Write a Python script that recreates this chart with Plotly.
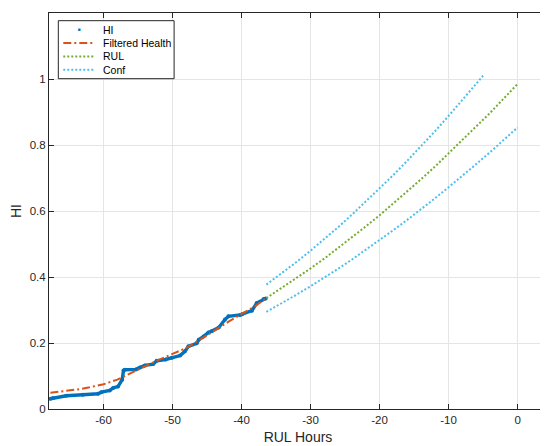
import plotly.graph_objects as go

# Health indicator (raw)
hi_x = [-67.7, -67.3, -65.4, -63.0, -60.8, -60.3, -59.1, -58.6, -57.9, -57.3, -57.1, -56.9,
        -55.3, -54.7, -54.0, -52.8, -52.3, -51.0, -50.1, -48.9, -48.2, -47.7, -46.5, -46.2,
        -45.5, -44.8, -44.3, -43.3, -42.4, -41.9, -40.2, -39.9, -38.5, -37.8, -36.8, -36.5]
hi_y = [0.031, 0.033, 0.040, 0.043, 0.046, 0.051, 0.056, 0.064, 0.068, 0.089, 0.117, 0.119,
        0.120, 0.126, 0.132, 0.136, 0.146, 0.150, 0.155, 0.162, 0.175, 0.190, 0.199, 0.210,
        0.220, 0.232, 0.236, 0.247, 0.271, 0.281, 0.285, 0.287, 0.298, 0.321, 0.333, 0.335]

# Filtered health
filt_x = [-67.7, -65.0, -63.5, -62.0, -60.0, -58.0, -57.0, -56.0, -54.0, -52.0, -50.0,
          -48.0, -46.0, -44.0, -42.0, -40.0, -38.0, -36.5]
filt_y = [0.049, 0.055, 0.060, 0.066, 0.075, 0.089, 0.099, 0.108, 0.130, 0.149, 0.167,
          0.185, 0.210, 0.237, 0.263, 0.288, 0.312, 0.335]

# RUL projection
rul_x = [-36.4, -34, -32, -30, -28, -26, -24, -22, -20, -18, -16, -14, -12, -10, -8, -6, -4, -2, 0]
rul_y = [0.336, 0.369, 0.397, 0.426, 0.456, 0.488, 0.520, 0.553, 0.587, 0.623, 0.659, 0.696,
         0.734, 0.774, 0.814, 0.855, 0.897, 0.941, 0.985]

# Confidence bounds
conf_up_x = [-36.4, -34, -32, -30, -28, -26, -24, -22, -20, -18, -16, -14, -12, -10, -8, -6, -5]
conf_up_y = [0.377, 0.414, 0.446, 0.480, 0.515, 0.551, 0.589, 0.628, 0.668, 0.709, 0.752,
             0.796, 0.841, 0.888, 0.936, 0.985, 1.010]
conf_lo_x = [-36.4, -34, -32, -30, -28, -26, -24, -22, -20, -18, -16, -14, -12, -10, -8, -6, -4, -2, 0]
conf_lo_y = [0.294, 0.322, 0.347, 0.372, 0.398, 0.425, 0.453, 0.482, 0.511, 0.542, 0.573,
             0.605, 0.638, 0.672, 0.706, 0.742, 0.778, 0.815, 0.853]

x_ticks = [-60, -50, -40, -30, -20, -10, 0]
x_tick_text = ["-60", "-50", "-40", "-30", "-20", "-10", "0"]
y_ticks = [0, 0.2, 0.4, 0.6, 0.8, 1, 1.2]
y_tick_text = ["0", "0.2", "0.4", "0.6", "0.8", "1", "1.2"]

legend_names = ["HI", "Filtered Health", "RUL", "Conf"]

BLUE = "#0072BD"
ORANGE = "#D95319"
GREEN = "#77AC30"
LBLUE = "#4DBEEE"
AX = "#262626"
GRID = "#e5e5e5"
FONT = "Liberation Sans, Arial, Helvetica, sans-serif"
DASHDOT = "8px,3px,2px,3px"
DOT = "2px,2px"

fig = go.Figure()
fig.add_trace(go.Scatter(x=hi_x, y=hi_y, mode="lines", line=dict(color=BLUE, width=3.4),
                         name=legend_names[0], hoverinfo="skip"))
fig.add_trace(go.Scatter(x=hi_x, y=hi_y, mode="markers", name=legend_names[0],
                         marker=dict(color=BLUE, size=4)))
fig.add_trace(go.Scatter(x=filt_x, y=filt_y, mode="lines", name=legend_names[1],
                         line=dict(color=ORANGE, width=2, dash=DASHDOT)))
fig.add_trace(go.Scatter(x=rul_x, y=rul_y, mode="lines", name=legend_names[2],
                         line=dict(color=GREEN, width=2, dash=DOT)))
fig.add_trace(go.Scatter(x=conf_up_x, y=conf_up_y, mode="lines", name=legend_names[3],
                         line=dict(color=LBLUE, width=2, dash=DOT)))
fig.add_trace(go.Scatter(x=conf_lo_x, y=conf_lo_y, mode="lines", name=legend_names[3],
                         line=dict(color=LBLUE, width=2, dash=DOT)))

# Compact MATLAB-style legend box (drawn in plot-area fractions)
box_x0, box_x1, box_y0, box_y1 = 0.0187, 0.2512, 0.8341, 0.9806
row_y = [0.9578, 0.9242, 0.8904, 0.8568]
samp_x0, samp_x1, text_x = 0.0287, 0.0924, 0.1045
shapes = [dict(type="rect", xref="paper", yref="paper", x0=box_x0, x1=box_x1, y0=box_y0, y1=box_y1,
               line=dict(color=AX, width=1), fillcolor="white", layer="above")]
styles = [None, (ORANGE, DASHDOT), (GREEN, DOT), (LBLUE, DOT)]
for i, st in enumerate(styles):
    if st is None:
        continue
    shapes.append(dict(type="line", xref="paper", yref="paper", x0=samp_x0, x1=samp_x1,
                       y0=row_y[i], y1=row_y[i], line=dict(color=st[0], width=2, dash=st[1]),
                       layer="above"))
annotations = [dict(xref="paper", yref="paper", x=text_x, y=row_y[i], text=legend_names[i],
                    showarrow=False, xanchor="left", yanchor="middle",
                    font=dict(family=FONT, size=10.5, color="#000000"))
               for i in range(len(legend_names))]
# HI legend marker (a single dot)
annotations.append(dict(xref="paper", yref="paper", x=(samp_x0 + samp_x1) / 2, y=row_y[0],
                        text="<b>·</b>", showarrow=False, xanchor="center", yanchor="middle",
                        font=dict(family=FONT, size=16, color=BLUE)))

axis_common = dict(showline=True, linecolor=AX, linewidth=1, mirror="ticks", ticks="inside",
                   ticklen=5, tickcolor=AX, showgrid=True, gridcolor=GRID, gridwidth=1,
                   zeroline=False, automargin=False,
                   tickfont=dict(family=FONT, size=11.5, color=AX))

fig.update_layout(
    width=540, height=438,
    margin=dict(l=41, r=1.3, t=5, b=37),
    paper_bgcolor="white", plot_bgcolor="white",
    font=dict(family=FONT, color=AX),
    xaxis=dict(range=[-67.9, 4.26], tickvals=x_ticks, ticktext=x_tick_text,
               title=dict(text="RUL Hours", font=dict(family=FONT, size=14, color=AX), standoff=7),
               **axis_common),
    yaxis=dict(range=[0, 1.2], tickvals=y_ticks, ticktext=y_tick_text,
               title=dict(text="HI", font=dict(family=FONT, size=14, color=AX), standoff=6),
               **axis_common),
    showlegend=False,
    shapes=shapes,
    annotations=annotations,
)

fig.write_html("out.html")
